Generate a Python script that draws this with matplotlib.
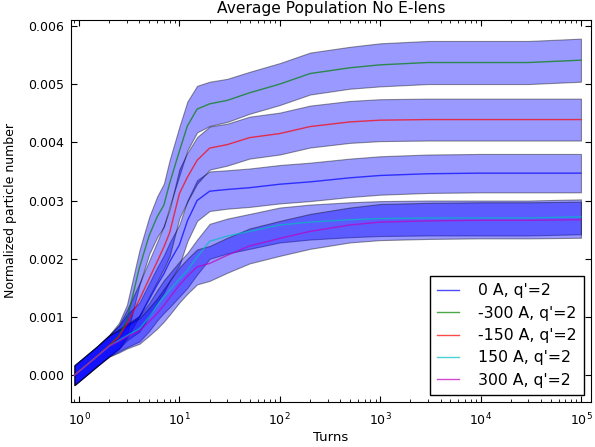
import numpy as np
import matplotlib
matplotlib.use('Agg')
import matplotlib.pyplot as plt

# turn numbers where the averaged population was sampled
turns = [0.9, 1.5, 2, 2.5, 3, 4, 5, 6, 7, 8, 10, 12, 15, 20, 30, 50,
         100, 200, 500, 1000, 3000, 10000, 30000, 100000]

# mean normalized particle number (x1e-3) for each lens current
mean_0 = [0.0, 0.32, 0.51, 0.65, 0.82, 1.0, 1.3, 1.55, 1.74, 1.95, 2.24, 2.65,
          3.0, 3.16, 3.19, 3.22, 3.28, 3.32, 3.39, 3.43, 3.46, 3.47, 3.47, 3.47]
mean_m300 = [0.0, 0.32, 0.51, 0.68, 0.95, 1.85, 2.4, 2.72, 2.92, 3.3, 3.85, 4.28,
             4.57, 4.66, 4.72, 4.85, 5.0, 5.18, 5.28, 5.33, 5.37, 5.37, 5.37, 5.41]
mean_m150 = [0.0, 0.32, 0.51, 0.66, 0.88, 1.3, 1.66, 1.95, 2.2, 2.45, 3.12, 3.4,
             3.69, 3.9, 3.96, 4.08, 4.15, 4.27, 4.35, 4.38, 4.39, 4.39, 4.39, 4.39]
mean_p150 = [0.0, 0.32, 0.5, 0.6, 0.68, 0.8, 1.0, 1.2, 1.35, 1.46, 1.65, 1.8,
             2.03, 2.3, 2.39, 2.47, 2.58, 2.63, 2.67, 2.69, 2.7, 2.7, 2.7, 2.72]
mean_p300 = [0.0, 0.32, 0.5, 0.58, 0.66, 0.76, 0.92, 1.06, 1.2, 1.33, 1.55, 1.7,
             1.86, 1.92, 2.06, 2.22, 2.35, 2.47, 2.58, 2.63, 2.65, 2.66, 2.66, 2.67]

# standard deviation (x1e-3)
std_0 = [0.17, 0.17, 0.18, 0.2, 0.22, 0.25, 0.28, 0.3, 0.32, 0.33, 0.35, 0.35,
         0.35, 0.34, 0.33, 0.33, 0.33, 0.33, 0.33, 0.33, 0.33, 0.33, 0.33, 0.33]
std_m300 = [0.17, 0.17, 0.18, 0.22, 0.26, 0.3, 0.32, 0.35, 0.37, 0.4, 0.42, 0.42,
            0.4, 0.38, 0.37, 0.36, 0.36, 0.36, 0.36, 0.37, 0.37, 0.37, 0.37, 0.37]
std_m150 = [0.17, 0.17, 0.18, 0.2, 0.24, 0.28, 0.31, 0.34, 0.37, 0.4, 0.42, 0.42,
            0.4, 0.37, 0.36, 0.36, 0.36, 0.36, 0.36, 0.36, 0.36, 0.36, 0.36, 0.36]
std_p150 = [0.17, 0.17, 0.18, 0.19, 0.2, 0.22, 0.24, 0.26, 0.28, 0.29, 0.3, 0.3,
            0.3, 0.3, 0.3, 0.3, 0.3, 0.3, 0.3, 0.3, 0.3, 0.3, 0.3, 0.3]
std_p300 = [0.17, 0.17, 0.18, 0.19, 0.2, 0.22, 0.24, 0.26, 0.28, 0.29, 0.3, 0.3,
            0.3, 0.3, 0.3, 0.3, 0.3, 0.3, 0.3, 0.31, 0.31, 0.31, 0.31, 0.31]

labels = ['0 A, q\'=2', '-300 A, q\'=2', '-150 A, q\'=2', '150 A, q\'=2', '300 A, q\'=2']
colors = ['#0000ff', '#008000', '#ff0000', '#00bfbf', '#bf00bf']
means = [mean_0, mean_m300, mean_m150, mean_p150, mean_p300]
stds = [std_0, std_m300, std_m150, std_p150, std_p300]

plt.rcParams['font.family'] = ['DejaVu Sans']

fig = plt.figure(figsize=(5.95, 4.47), dpi=100)
ax = fig.add_axes([71/595, 45/447, 520/595, 382/447])

x = np.array(turns)
for m, s, c, lab in zip(means, stds, colors, labels):
    m = np.array(m)*1e-3
    s = np.array(s)*1e-3
    ax.plot(x, m, color=c, alpha=0.7, lw=1, label=lab, zorder=3)
    ax.fill_between(x, m-s, m+s, facecolor='b', edgecolor='k', alpha=0.4, lw=0.8, zorder=2)

ax.set_xscale('log')
ax.set_xlim(10**-0.08, 10**5.1)
ax.set_ylim(-0.00046, 0.0061)
ax.set_yticks([0, 0.001, 0.002, 0.003, 0.004, 0.005, 0.006])
ax.yaxis.set_major_formatter(matplotlib.ticker.FormatStrFormatter('%.3f'))
ax.tick_params(which='both', direction='in', top=True, right=True, labelsize=9)
ax.tick_params(axis='x', pad=7)
ax.tick_params(axis='y', pad=5)
ax.tick_params(which='major', length=4)
ax.tick_params(which='minor', length=2)

ax.set_title('Average Population No E-lens', fontsize=11.2, pad=5)
ax.set_xlabel('Turns', fontsize=9.5, labelpad=2)
ax.set_ylabel('Normalized particle number', fontsize=9, labelpad=8)

leg = ax.legend(loc='lower right', fontsize=11.3, fancybox=False, framealpha=1,
                edgecolor='k', handlelength=1.45, handletextpad=1.2,
                borderaxespad=0.45, labelspacing=0.47, borderpad=0.45)
leg.get_frame().set_linewidth(1)

fig.savefig('out.png', dpi=100)
